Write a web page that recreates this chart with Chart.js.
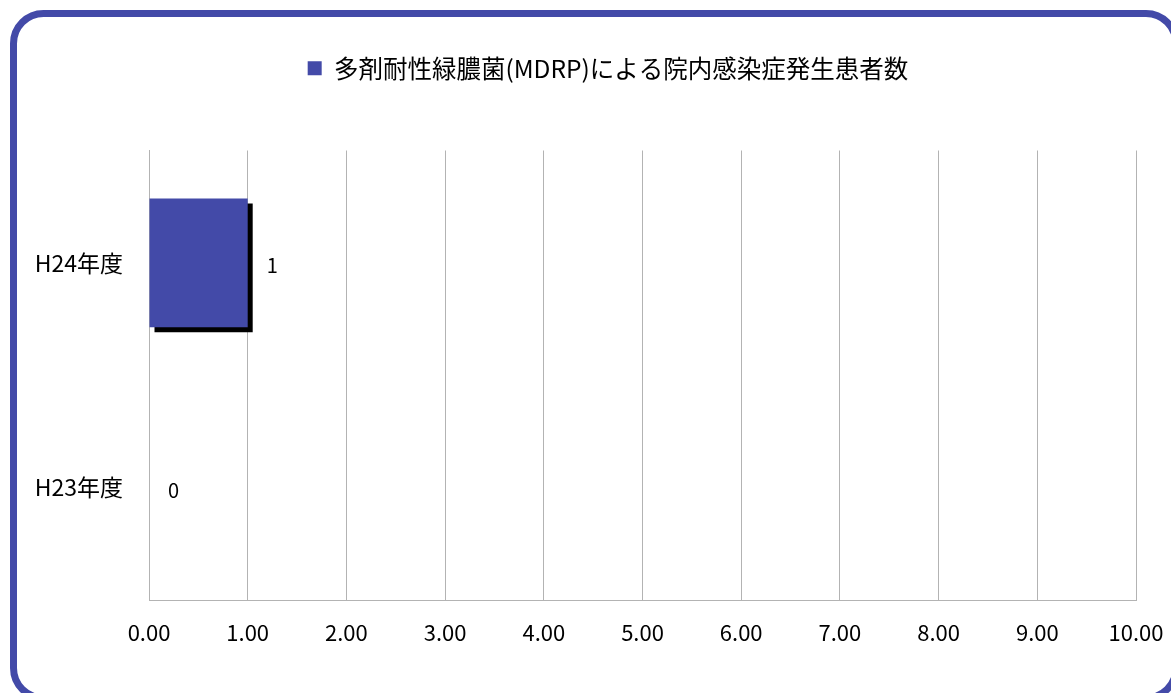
<!DOCTYPE html>
<html lang="ja">
<head>
<meta charset="utf-8">
<script src="https://cdn.jsdelivr.net/npm/chart.js@4.4.1/dist/chart.umd.min.js"></script>
<style>
  html, body { margin: 0; padding: 0; background: #ffffff; }
  #wrap { width: 1171px; height: 693px; position: relative; }
</style>
</head>
<body>
<div id="wrap"><canvas id="c" width="1171" height="693"></canvas></div>
<script>
// Fiscal years (top to bottom) and patient counts
const categories = ['H24年度', 'H23年度'];
const patientCounts = [1, 0];
const seriesName = '多剤耐性緑膿菌(MDRP)による院内感染症発生患者数';
const tickValues = [0, 1, 2, 3, 4, 5, 6, 7, 8, 9, 10];

const FONT = "'Noto Sans CJK JP', 'Noto Sans', sans-serif";
const BAR_COLOR = '#434aa8';
const GRID_COLOR = '#b3b3b3';

// White background and rounded frame around the whole chart
const framePlugin = {
  id: 'frame',
  beforeDraw(chart) {
    const ctx = chart.ctx;
    ctx.save();
    ctx.fillStyle = '#ffffff';
    ctx.fillRect(0, 0, chart.width, chart.height);
    ctx.restore();
  },
  afterDraw(chart) {
    const ctx = chart.ctx;
    ctx.save();
    ctx.strokeStyle = BAR_COLOR;
    ctx.lineWidth = 7;
    ctx.beginPath();
    ctx.roundRect(13.5, 13.5, 1176 - 13.5, 698 - 13.5, 30);
    ctx.stroke();
    ctx.restore();
  }
};

// Leave extra room between the legend and the plot, and nudge the legend right
const legendGapPlugin = {
  id: 'legendGap',
  afterInit(chart) {
    const lg = chart.legend;
    if (!lg) return;
    const origFit = lg.fit.bind(lg);
    lg.fit = function () {
      origFit();
      this.height += 60;
    };
  },
  afterLayout(chart) {
    const lg = chart.legend;
    if (!lg) return;
    lg.left += 40;
    lg.right += 40;
  }
};

// Hard black drop shadow under the bars
const shadowPlugin = {
  id: 'barShadow',
  beforeDatasetsDraw(chart) {
    const ctx = chart.ctx;
    ctx.save();
    ctx.shadowColor = '#000000';
    ctx.shadowBlur = 0;
    ctx.shadowOffsetX = 5;
    ctx.shadowOffsetY = 5;
  },
  afterDatasetsDraw(chart) {
    chart.ctx.restore();
  }
};

// Value labels to the right of each bar
const valueLabelPlugin = {
  id: 'valueLabels',
  afterDatasetsDraw(chart) {
    const ctx = chart.ctx;
    const meta = chart.getDatasetMeta(0);
    ctx.save();
    ctx.font = '20px ' + FONT;
    ctx.fillStyle = '#000000';
    ctx.textAlign = 'left';
    ctx.textBaseline = 'middle';
    meta.data.forEach((bar, i) => {
      const v = chart.data.datasets[0].data[i];
      ctx.fillText(String(v), bar.x + 19, bar.y + 3);
    });
    ctx.restore();
  }
};

new Chart(document.getElementById('c'), {
  type: 'bar',
  data: {
    labels: categories,
    datasets: [{
      label: seriesName,
      data: patientCounts,
      backgroundColor: BAR_COLOR,
      borderWidth: 0,
      categoryPercentage: 0.573,
      barPercentage: 1.0
    }]
  },
  options: {
    indexAxis: 'y',
    responsive: false,
    animation: false,
    devicePixelRatio: 1,
    layout: { padding: { top: 46, left: 0, right: 35, bottom: 0 } },
    plugins: {
      legend: {
        position: 'top',
        labels: {
          font: { family: FONT, size: 24.5 },
          color: '#000000',
          boxWidth: 14,
          boxHeight: 14,
          padding: 10
        }
      },
      tooltip: { enabled: false }
    },
    scales: {
      x: {
        min: 0,
        max: 10,
        afterBuildTicks(scale) {
          scale.ticks = tickValues.map(v => ({ value: v }));
        },
        afterFit(scale) {
          scale.height = 93;
          scale.paddingLeft = 0;
          scale.paddingRight = 0;
        },
        grid: { color: GRID_COLOR, lineWidth: 1, drawTicks: false },
        border: { display: true, color: GRID_COLOR, width: 1 },
        ticks: {
          font: { family: FONT, size: 22 },
          color: '#000000',
          padding: 19,
          callback: v => Number(v).toFixed(2)
        }
      },
      y: {
        afterFit(scale) { scale.width = 149; },
        grid: { display: false, drawTicks: false },
        border: { display: true, color: GRID_COLOR, width: 1 },
        ticks: {
          font: { family: FONT, size: 23 },
          color: '#000000',
          padding: 26
        }
      }
    }
  },
  plugins: [framePlugin, legendGapPlugin, shadowPlugin, valueLabelPlugin]
});
</script>
</body>
</html>
